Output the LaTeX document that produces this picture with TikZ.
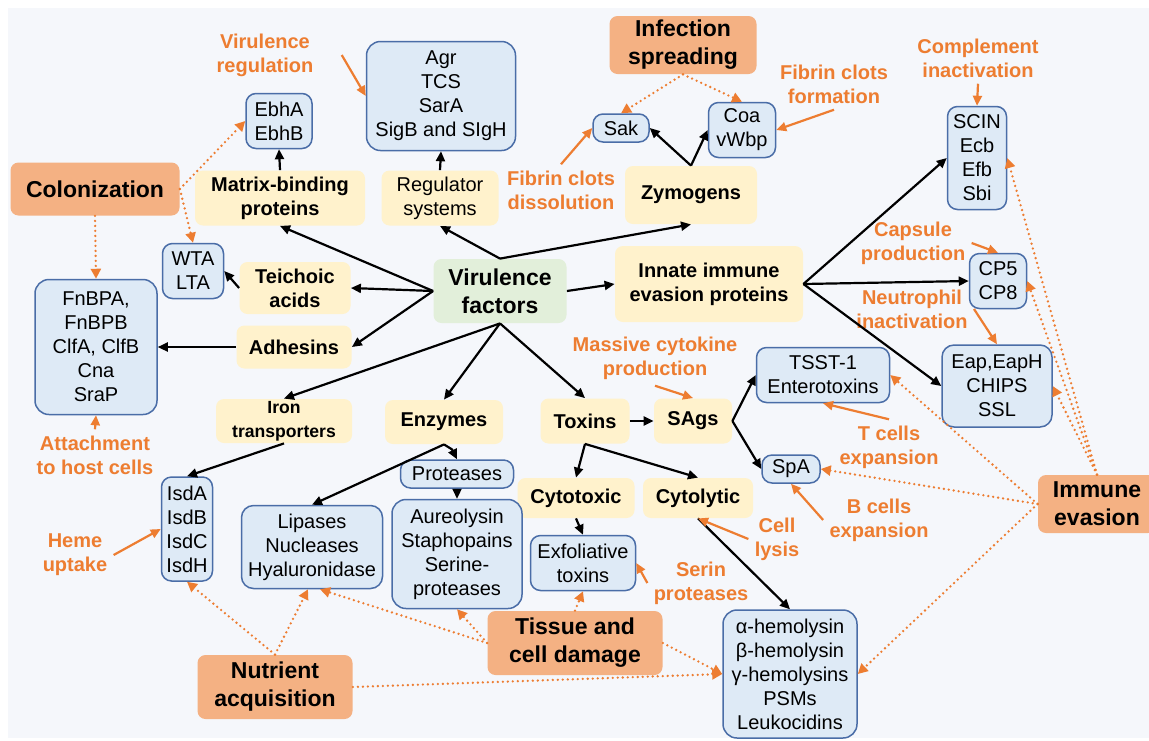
\documentclass[tikz,border=0pt]{standalone}
\usepackage{fontspec}
\setmainfont{Liberation Sans}
\usetikzlibrary{positioning,arrows.meta}

\definecolor{canvas}{HTML}{F5F7FB}
\definecolor{goalfill}{HTML}{F4B183}
\definecolor{corefill}{HTML}{E2EFDA}
\definecolor{catfill}{HTML}{FFF2CC}
\definecolor{itemfill}{HTML}{DEEAF6}
\definecolor{itemline}{HTML}{4A6DA7}
\definecolor{accent}{HTML}{ED7D31}

\tikzset{
  base/.style={rounded corners=4pt, align=center, inner sep=0pt, font=\fontsize{10}{12}\selectfont},
  wh/.style 2 args={minimum width=#1*0.5pt, minimum height=#2*0.5pt},
  goal/.style={base, fill=goalfill, font=\bfseries\fontsize{11.5}{14}\selectfont},
  core/.style={base, fill=corefill, font=\bfseries\fontsize{11.5}{14}\selectfont},
  cat/.style={base, fill=catfill, font=\bfseries\fontsize{10}{12}\selectfont},
  item/.style={base, fill=itemfill, draw=itemline, line width=0.75pt, rounded corners=5pt},
  note/.style={align=center, inner sep=3pt, text=accent, font=\bfseries\fontsize{10}{12}\selectfont},
  flow/.style={-{Triangle[length=5pt,width=4.5pt]}, line width=1.1pt},
  hint/.style={-{Triangle[length=5pt,width=4.5pt]}, line width=1.1pt, draw=accent},
  link/.style={-{Triangle[length=5pt,width=5pt]}, draw=accent, line width=1.3pt,
    line cap=round, dash pattern=on 0pt off 2.5pt}
}

\begin{document}
\begin{tikzpicture}[x=0.5pt, y=-0.5pt]
\useasboundingbox (0,0) rectangle (1149,740);
\fill[white] (0,0) rectangle (1149,740);
\fill[canvas] (8,8) rectangle (1149,738);

% centre
\node[core, wh={133}{64}] (vf) at (500,291) {Virulence\\factors};

% groups of factors
\node[cat, wh={170}{55}] (matrix) at (280,198) {Matrix-binding\\proteins};
\node[cat, wh={117}{55}, font=\fontsize{10}{12}\selectfont] (regsys) at (440,198) {Regulator\\systems};
\node[cat, wh={132}{58}] (zymo) at (691,195) {Zymogens};
\node[cat, wh={111}{52}] (teich) at (295,288) {Teichoic\\acids};
\node[cat, wh={115}{43}] (adh) at (294,347) {Adhesins};
\node[cat, wh={136}{44}, font=\bfseries\fontsize{8.8}{12}\selectfont] (iron) at (284,421) {Iron\\transporters};
\node[cat, wh={118}{44}] (enz) at (444,422) {Enzymes};
\node[cat, wh={89}{45}] (tox) at (585,421) {Toxins};
\node[cat, wh={78}{45}] (sags) at (693,421) {SAgs};
\node[cat, wh={117}{40}] (cytox) at (576,498) {Cytotoxic};
\node[cat, wh={110}{40}] (cytol) at (698,498) {Cytolytic};
\node[cat, wh={188}{76}] (innate) at (709,284) {Innate immune\\evasion proteins};

% single factors
\node[item, wh={66}{55}] (ebh) at (279,121) {EbhA\\EbhB};
\node[item, wh={149}{109}, rounded corners=7pt] (agr) at (441,96) {Agr\\TCS\\SarA\\SigB and SIgH};
\node[item, wh={56}{28}] (sak) at (621,128) {Sak};
\node[item, wh={67}{55}] (coa) at (742,130) {Coa\\vWbp};
\node[item, wh={59}{103}] (scin) at (977,158) {SCIN\\Ecb\\Efb\\Sbi};
\node[item, wh={61}{55}] (wta) at (193,271) {WTA\\LTA};
\node[item, wh={122}{135}, rounded corners=7pt] (fnb) at (96,347) {FnBPA,\\FnBPB\\ClfA, ClfB\\Cna\\SraP};
\node[item, wh={57}{55}] (cp) at (998,281) {CP5\\CP8};
\node[item, wh={110}{82}, rounded corners=6pt] (eap) at (997,386) {Eap,EapH\\CHIPS\\SSL};
\node[item, wh={133}{55}] (tsst) at (823,375) {TSST-1\\Enterotoxins};
\node[item, wh={58}{28}] (spa) at (791,469) {SpA};
\node[item, wh={51}{104}] (isd) at (187,529) {IsdA\\IsdB\\IsdC\\IsdH};
\node[item, wh={141}{83}, rounded corners=6pt] (lip) at (312,547) {Lipases\\Nucleases\\Hyaluronidase};
\node[item, wh={113}{28}] (prot) at (457,474) {Proteases};
\node[item, wh={130}{109}, rounded corners=7pt] (aur) at (457,554) {Aureolysin\\Staphopains\\Serine-\\proteases};
\node[item, wh={105}{55}] (exf) at (583,563) {Exfoliative\\toxins};
\node[item, wh={134}{128}, rounded corners=7pt] (hemo) at (790,674) {α-hemolysin\\β-hemolysin\\γ-hemolysins\\PSMs\\Leukocidins};

% roles
\node[goal, wh={169}{53}] (colon) at (95,189) {Colonization};
\node[goal, wh={147}{58}] (infect) at (683,45) {Infection\\spreading};
\node[goal, wh={118}{58}] (immune) at (1097,504) {Immune\\evasion};
\node[goal, wh={155}{64}] (nutri) at (275,687) {Nutrient\\acquisition};
\node[goal, wh={175}{64}] (tissue) at (575,643) {Tissue and\\cell damage};

% functions
\node[note] (vreg) at (265,55) {Virulence\\regulation};
\node[note] (fform) at (834,84) {Fibrin clots\\formation};
\node[note] (compl) at (978,58) {Complement\\inactivation};
\node[note] (fdiss) at (561,190) {Fibrin clots\\dissolution};
\node[note] (caps) at (913,243) {Capsule\\production};
\node[note] (neut) at (912,309) {Neutrophil\\inactivation};
\node[note] (cyto) at (655,358) {Massive cytokine\\production};
\node[note] (tcell) at (889,447) {T cells\\expansion};
\node[note] (bcell) at (879,520) {B cells\\expansion};
\node[note] (lysis) at (777,539) {Cell\\lysis};
\node[note] (serin) at (701,583) {Serin\\proteases};
\node[note] (attach) at (95,455) {Attachment\\to host cells};
\node[note] (heme) at (75,555) {Heme\\uptake};

% black arrows
\draw[flow] (vf.west) -- (matrix.south);
\draw[flow] (vf.west) -- (teich.east);
\draw[flow] (vf.west) -- (adh.east);
\draw[flow] (vf.south) -- (iron.north);
\draw[flow] (vf.south) -- (enz.north);
\draw[flow] (vf.south) -- (tox.north);
\draw[flow] (vf.north) -- (regsys.south);
\draw[flow] (vf.north) -- (zymo.south);
\draw[flow] (vf.east) -- (innate.west);
\draw[flow] (matrix.north) -- (ebh.south);
\draw[flow] (regsys.north) -- (agr.south);
\draw[flow] (zymo.north) -- (sak.east);
\draw[flow] (zymo.north) -- (coa.west);
\draw[flow] (innate.east) -- (scin.west);
\draw[flow] (innate.east) -- (cp.west);
\draw[flow] (innate.east) -- (eap.west);
\draw[flow] (adh.west) -- (fnb.east);
\draw[flow] (teich.west) -- (wta.east);
\draw[flow] (iron.south) -- (isd.north);
\draw[flow] (enz.south) -- ++(8,5) -- (prot.north);
\draw[flow] (enz.south) -- (lip.north);
\draw[flow] (prot.south) -- (aur.north);
\draw[flow] (tox.east) -- (sags.west);
\draw[flow] (tox.south) -- (cytox.north);
\draw[flow] (tox.south) -- (cytol.north);
\draw[flow] (sags.east) -- (tsst.west);
\draw[flow] (sags.east) -- (spa.west);
\draw[flow] (cytox.south) -- (exf.north);
\draw[flow] (cytol.south) -- (hemo.north);

% orange arrows
\draw[hint] ([xshift=11pt]vreg.east) -- (agr.west);
\draw[hint] (fdiss.north) -- (sak.west);
\draw[hint] (fform.south) -- (coa.east);
\draw[hint] (compl.south) -- (scin.north);
\draw[hint] (caps.east) -- (cp.north);
\draw[hint] (neut.east) -- (eap.north);
\draw[hint] (cyto.south) -- (sags.north);
\draw[hint] (tcell.north) -- (tsst.south);
\draw[hint] (bcell.west) -- (spa.south);
\draw[hint] (lysis.west) -- (cytol.south);
\draw[hint] (serin.west) -- (exf.east);
\draw[hint] (attach.north) -- (fnb.south);
\draw[hint] (heme.east) -- (isd.west);

% dotted arrows
\draw[link] (colon.east) -- (ebh.west);
\draw[link] (colon.east) -- (wta.north);
\draw[link] (colon.south) -- (fnb.north);
\draw[link] (infect.south) -- (sak.north);
\draw[link] (infect.south) -- (coa.north);
\draw[link] (immune.north) -- (scin.east);
\draw[link] (immune.north) -- (cp.east);
\draw[link] (immune.north) -- (eap.east);
\draw[link] (immune.west) -- (tsst.east);
\draw[link] (immune.west) -- (spa.east);
\draw[link] (immune.west) -- (hemo.east);
\draw[link] (nutri.north) -- (isd.south);
\draw[link] (nutri.north) -- ([xshift=-2pt]lip.south);
\draw[link] (nutri.east) -- (hemo.west);
\draw[link] (tissue.west) -- ([xshift=4pt]lip.south);
\draw[link] (tissue.west) -- (aur.south);
\draw[link] (tissue.north) -- (exf.south);
\draw[link] (tissue.east) -- (hemo.west);
\end{tikzpicture}
\end{document}
